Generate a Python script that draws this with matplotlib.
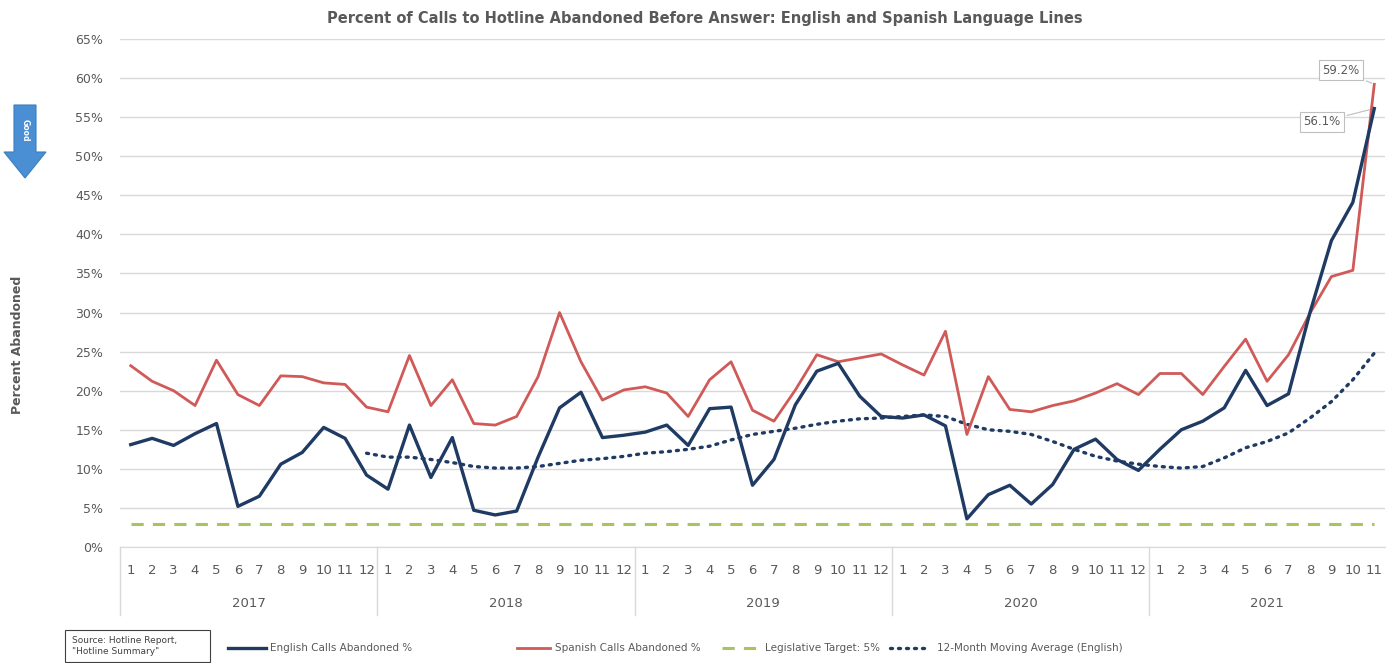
import numpy as np
import matplotlib
matplotlib.use("Agg")
import matplotlib.pyplot as plt
from matplotlib.lines import Line2D
from matplotlib.patches import FancyArrow, Rectangle
import matplotlib.transforms as mtrans

years = ["2017", "2018", "2019", "2020", "2021"]
months_per_year = [12, 12, 12, 12, 11]
month_labels = [str(m) for n in months_per_year for m in range(1, n + 1)]

english = [13.1, 13.9, 13.0, 14.5, 15.8, 5.2, 6.5, 10.6, 12.1, 15.3, 13.9, 9.2,
           7.4, 15.6, 8.9, 14.0, 4.7, 4.1, 4.6, 11.5, 17.8, 19.8, 14.0, 14.3,
           14.7, 15.6, 13.0, 17.7, 17.9, 7.9, 11.2, 18.2, 22.5, 23.5, 19.3, 16.7,
           16.5, 16.9, 15.5, 3.6, 6.7, 7.9, 5.5, 8.0, 12.5, 13.8, 11.2, 9.8,
           12.5, 15.0, 16.1, 17.8, 22.6, 18.1, 19.6, 30.0, 39.2, 44.1, 56.1]
spanish = [23.2, 21.2, 20.0, 18.1, 23.9, 19.5, 18.1, 21.9, 21.8, 21.0, 20.8, 17.9,
           17.3, 24.5, 18.1, 21.4, 15.8, 15.6, 16.7, 21.8, 30.0, 23.7, 18.8, 20.1,
           20.5, 19.7, 16.7, 21.4, 23.7, 17.5, 16.1, 20.1, 24.6, 23.7, 24.2, 24.7,
           23.3, 22.0, 27.6, 14.4, 21.8, 17.6, 17.3, 18.1, 18.7, 19.7, 20.9, 19.5,
           22.2, 22.2, 19.5, 23.1, 26.6, 21.2, 24.6, 29.9, 34.6, 35.4, 59.2]
moving_avg = [None] * 11 + [
           12.0,
           11.5, 11.5, 11.2, 10.8, 10.3, 10.1, 10.1, 10.3, 10.7, 11.1, 11.3, 11.6,
           12.0, 12.2, 12.5, 12.9, 13.7, 14.4, 14.8, 15.2, 15.7, 16.1, 16.4, 16.5,
           16.7, 16.9, 16.7, 15.7, 15.0, 14.8, 14.4, 13.5, 12.5, 11.6, 11.0, 10.6,
           10.3, 10.1, 10.3, 11.4, 12.7, 13.5, 14.6, 16.5, 18.6, 21.4, 24.8]
target = 3.0
yticks = list(range(0, 70, 5))

W, H = 1395, 663
fig = plt.figure(figsize=(W / 100, H / 100), dpi=100)
ax = fig.add_axes([120 / W, 1 - 547 / H, (1385 - 120) / W, (547 - 39) / H])

n = len(english)
x = np.arange(n)
ma = np.array([np.nan if v is None else v for v in moving_avg], dtype=float)

c_eng = "#1F3A63"
c_spa = "#CF5A58"
c_tgt = "#A9C35F"
grey = "#595959"

ax.plot(x, [target] * n, color=c_tgt, lw=2.2, ls=(0, (4, 3)), zorder=2)
ax.plot(x, ma, color=c_eng, lw=2.4, ls=(0, (0.6, 1.8)), dash_capstyle="round", zorder=3)
ax.plot(x, spanish, color=c_spa, lw=2.0, zorder=4)
ax.plot(x, english, color=c_eng, lw=2.4, zorder=5)

ax.set_xlim(-0.5, n - 0.5)
ax.set_ylim(0, 65)
ax.set_yticks(yticks)
ax.set_yticklabels([f"{v}%" for v in yticks], color=grey, fontsize=9)
ax.yaxis.grid(True, color="#D9D9D9", lw=1)
ax.set_axisbelow(True)
for s in ["top", "right", "left"]:
    ax.spines[s].set_visible(False)
ax.spines["bottom"].set_color("#D9D9D9")
ax.tick_params(axis="both", length=0)
ax.tick_params(axis="y", pad=12)
ax.set_xticks(x)
ax.set_xticklabels(month_labels, fontsize=9.5, color=grey)
ax.tick_params(axis="x", pad=12)

# year grouping
trans = mtrans.blended_transform_factory(ax.transData, ax.transAxes)
start = 0
bounds = [-0.5]
for yr, nm in zip(years, months_per_year):
    mid = start + (nm - 1) / 2
    ax.text(mid, -0.112, yr, transform=trans, ha="center", va="center", fontsize=9.5, color=grey)
    start += nm
    bounds.append(start - 0.5)
for b in bounds[:-1]:
    ax.add_line(Line2D([b, b], [0, -0.134], transform=trans, color="#D9D9D9", lw=1, clip_on=False))

# annotations
bbox = dict(boxstyle="square,pad=0.3", fc="white", ec="#BFBFBF", lw=0.8)
ax.annotate("59.2%", xy=(n - 1, spanish[-1]), xytext=(n - 2.55, 61.0), fontsize=8.5, color=grey,
            ha="center", va="center", bbox=bbox,
            arrowprops=dict(arrowstyle="-", color="#BFBFBF", lw=0.8))
ax.annotate("56.1%", xy=(n - 1, english[-1]), xytext=(n - 3.45, 54.4), fontsize=8.5, color=grey,
            ha="center", va="center", bbox=bbox,
            arrowprops=dict(arrowstyle="-", color="#BFBFBF", lw=0.8))

# title and y-label
fig.text(705 / W, 1 - 18 / H,
         "Percent of Calls to Hotline Abandoned Before Answer: English and Spanish Language Lines",
         ha="center", va="center", fontsize=10.5, fontweight="bold", color=grey)
fig.text(18 / W, 1 - 345 / H, "Percent Abandoned", rotation=90, ha="center", va="center",
         fontsize=9, fontweight="bold", color=grey)

# "Good" arrow
arr = FancyArrow(25 / W, 1 - 105 / H, 0, -(178 - 105) / H, width=22 / W, head_width=42 / W,
                 head_length=26 / H, length_includes_head=True, transform=fig.transFigure,
                 fc="#4A8FD4", ec="#3D7DBF", lw=0.8)
fig.add_artist(arr)
fig.text(25 / W, 1 - 130 / H, "Good", rotation=270, ha="center", va="center",
         fontsize=5.5, color="white", fontweight="bold")

# legend / source
fig.add_artist(Rectangle((65 / W, 1 - 662 / H), 145 / W, 32 / H, transform=fig.transFigure,
                         fc="white", ec="#404040", lw=0.8))
fig.text(72 / W, 1 - 646 / H, "Source: Hotline Report,\n\"Hotline Summary\"", ha="left", va="center",
         fontsize=6.5, color="#404040", linespacing=1.3)

def leg(x0, x1, xt, label, **kw):
    fig.add_artist(Line2D([x0 / W, x1 / W], [1 - 648 / H, 1 - 648 / H], transform=fig.transFigure, **kw))
    fig.text(xt / W, 1 - 648 / H, label, ha="left", va="center", fontsize=7.5, color=grey)

leg(228, 266, 270, "English Calls Abandoned %", color=c_eng, lw=2.4)
leg(517, 550, 555, "Spanish Calls Abandoned %", color=c_spa, lw=2.0)
leg(722, 756, 765, "Legislative Target: 5%", color=c_tgt, lw=2.2, ls=(0, (4, 3)))
leg(890, 930, 937, "12-Month Moving Average (English)", color=c_eng, lw=2.4,
    ls=(0, (0.6, 1.8)), dash_capstyle="round")

fig.savefig("out.png", dpi=100)
